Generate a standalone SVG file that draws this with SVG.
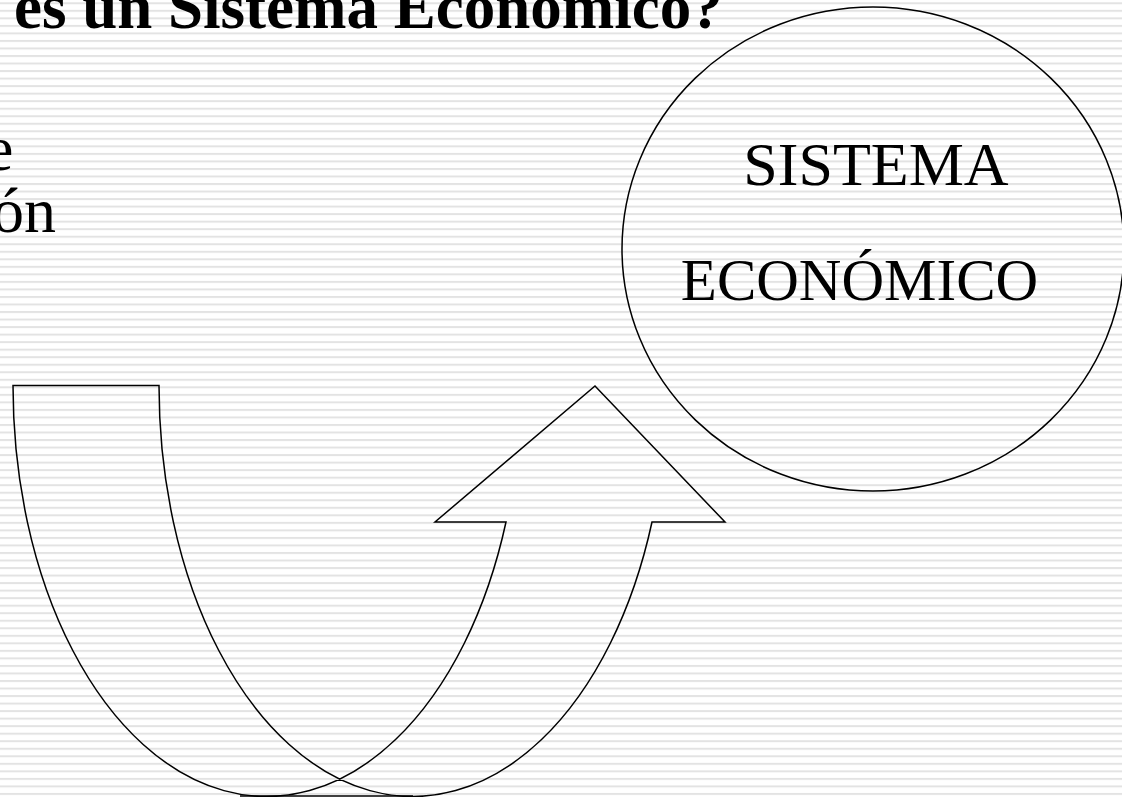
<svg xmlns="http://www.w3.org/2000/svg" width="1122" height="797" viewBox="0 0 1122 797">
<style>
.t{font-family:"Liberation Serif","Times New Roman",serif;fill:#000}
.s{fill:none;stroke:#000;stroke-width:1.5}
</style>
<defs>
<pattern id="stripes" patternUnits="userSpaceOnUse" x="0" y="2.3" width="20" height="7.53">
<rect x="0" y="0" width="20" height="2" fill="#e3e3e3"/>
</pattern>
</defs>
<rect width="1122" height="797" fill="#fff"/>
<rect width="1122" height="797" fill="url(#stripes)"/>
<g id="title"><text class="t" x="14" y="28" font-size="63" font-weight="bold">es un Sistema Económico?</text></g>
<g id="left-text">
<text class="t" x="13.5" y="170" font-size="64" text-anchor="end">e</text>
<text class="t" x="56" y="232" font-size="64" text-anchor="end">ón</text>
</g>
<g id="sistema">
<ellipse class="s" cx="873" cy="249" rx="251" ry="242"/>
<text class="t" x="876" y="185" font-size="62" text-anchor="middle">SISTEMA</text>
<text class="t" x="859.5" y="300" font-size="59" text-anchor="middle">ECONÓMICO</text>
</g>
<g id="connectors">
<path class="s" d="M13,385.5 A253.7,411 0 0 0 506,522 L435,522 L595,386 L725,522 L652,522 A253.7,411 0 0 1 159,385.5 Z"/>
<path class="s" d="M240,796 L413,796"/>
</g>
</svg>
